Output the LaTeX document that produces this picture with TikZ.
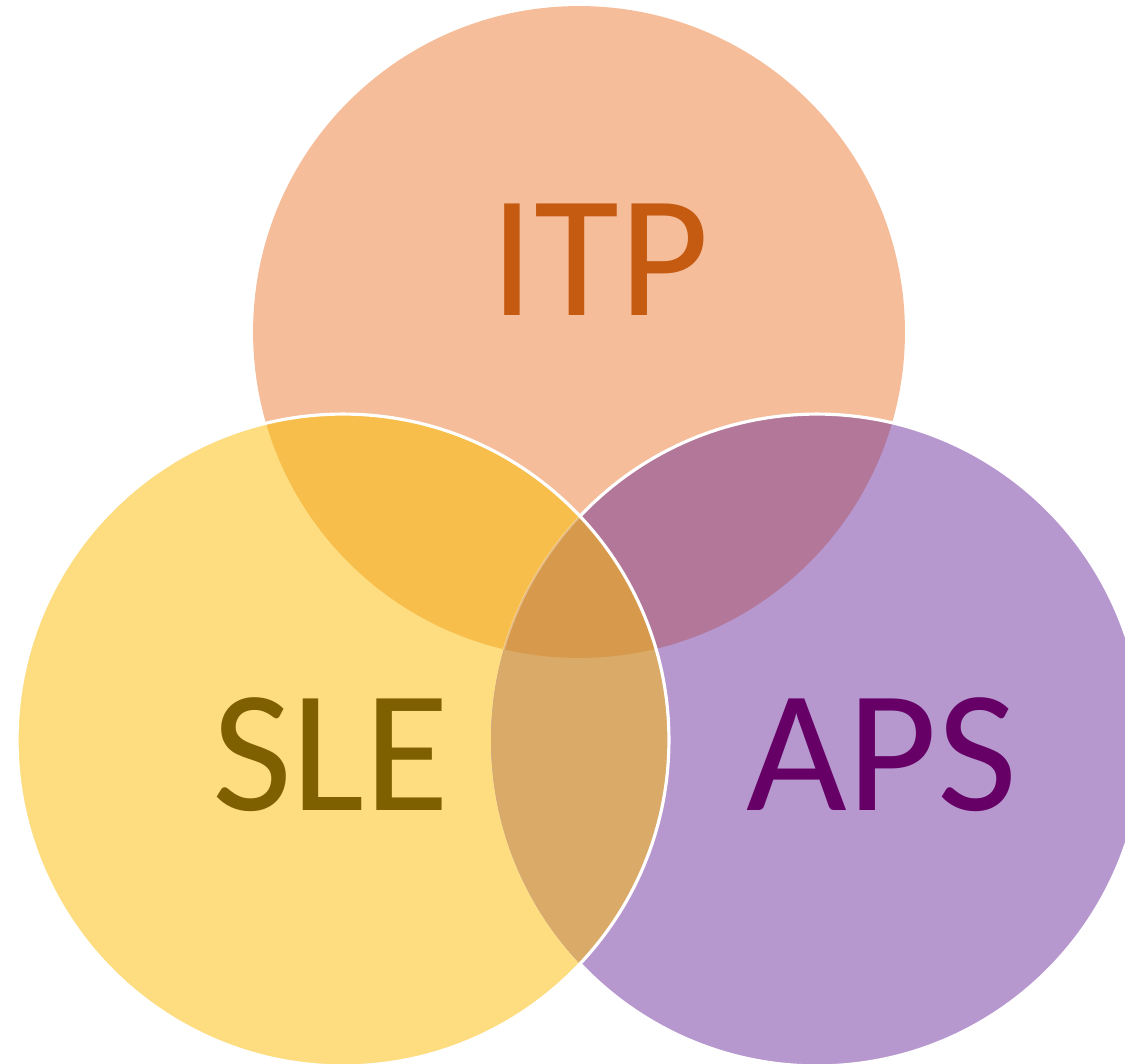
\documentclass[tikz,border=0pt]{standalone}
\usepackage{fontspec}
\setmainfont{Carlito}
\usepackage{tikz}
\usetikzlibrary{positioning}
\definecolor{colorITP}{HTML}{F5BD9A}
\definecolor{colorSLE}{HTML}{FDDD80}
\definecolor{colorAPS}{HTML}{B698CF}
\definecolor{colorITPSLE}{HTML}{F8BE4B}
\definecolor{colorITPAPS}{HTML}{B27799}
\definecolor{colorSLEAPS}{HTML}{D9AA68}
\definecolor{colorTrois}{HTML}{D7994B}
\definecolor{colorTxtITP}{HTML}{C55A11}
\definecolor{colorTxtSLE}{HTML}{7F6000}
\definecolor{colorTxtAPS}{HTML}{660066}
\def\colorITP{colorITP}
\def\colorSLE{colorSLE}
\def\colorAPS{colorAPS}

\begin{document}
\begin{tikzpicture}[x=0.02cm, y=-0.02cm,
  texte/.style={anchor=base, inner sep=0pt, font=\fontsize{99pt}{110pt}\selectfont},
  bord/.style={draw=white, line width=1.8pt}]

  \useasboundingbox (0,0) rectangle (1125,1064);
  \clip (0,0) rectangle (1125,1064);

  % Définition des cercles
  \def\cercleITP{(579,332) circle[radius=6.52cm]}
  \def\cercleSLE{(343,740) circle[radius=6.52cm]}
  \def\cercleAPS{(817,740) circle[radius=6.52cm]}

  % Remplissage
  \fill[\colorITP] \cercleITP;
  \fill[\colorSLE] \cercleSLE;
  \fill[\colorAPS] \cercleAPS;

  % Intersections
  \begin{scope}
    \clip \cercleITP;
    \fill[colorITPSLE] \cercleSLE;
    \fill[colorITPAPS] \cercleAPS;
  \end{scope}
  \begin{scope}
    \clip \cercleSLE;
    \fill[colorSLEAPS] \cercleAPS;
    \clip \cercleITP;
    \fill[colorTrois] \cercleAPS;
  \end{scope}

  % Bords blancs
  \begin{scope}[even odd rule]
    \clip (-10,-10) rectangle (1200,1100) \cercleSLE;
    \draw[bord] \cercleAPS;
  \end{scope}
  \begin{scope}
    \clip \cercleSLE;
    \clip \cercleITP;
    \draw[white, opacity=0.3, line width=1.2pt] \cercleAPS;
  \end{scope}
  \draw[bord] \cercleSLE;

  % Textes
  \node[texte, colorTxtITP] (itp) at (600,315) {ITP};
  \node[texte, colorTxtSLE] (sle) at (331,810) {SLE};
  \node[texte, colorTxtAPS] (aps) at (882,810) {APS};

\end{tikzpicture}
\end{document}
